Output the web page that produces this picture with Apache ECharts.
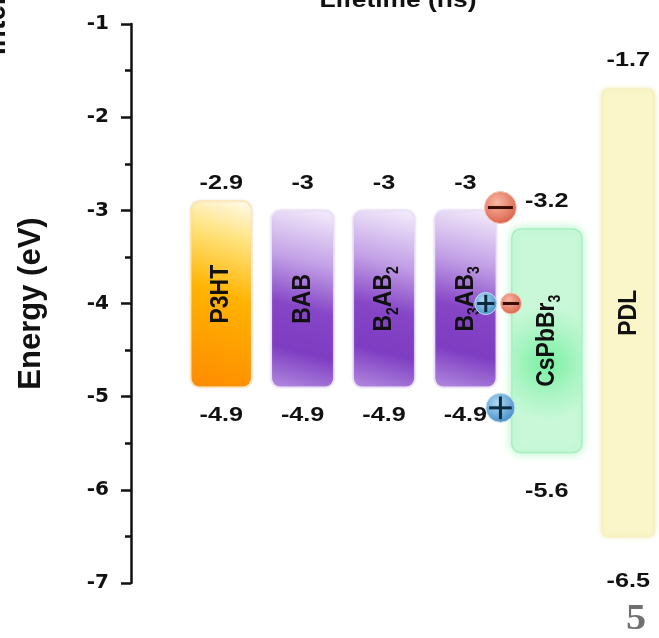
<!DOCTYPE html>
<html><head><meta charset="utf-8">
<script src="https://cdn.jsdelivr.net/npm/echarts@6/dist/echarts.min.js"></script>
<style>html,body{margin:0;padding:0;background:#fff}#c{width:659px;height:638px}</style>
</head><body><div id="c"></div>
<script>
// ---------- data ----------
const categories = ['P3HT', 'BAB', 'B2AB2', 'B3AB3', 'CsPbBr3', 'PDL'];
const lumoLevels = [-2.9, -3, -3, -3, -3.2, -1.7];
const homoLevels = [-4.9, -4.9, -4.9, -4.9, -5.6, -6.5];
const lumoLabels = ['-2.9', '-3', '-3', '-3', '-3.2', '-1.7'];
const homoLabels = ['-4.9', '-4.9', '-4.9', '-4.9', '-5.6', '-6.5'];
const energyMin = -7;
const energyMax = -1;
const chargeSigns = ['-', '+', '-', '+'];
const chargePos = [3.43, 3.25, 3.56, 3.43];
const chargeEnergy = [-2.97, -4.0, -4.0, -5.12];

// ---------- styles ----------
const FONT = '"Liberation Sans", Arial, sans-serif';
const richNames = {
  'P3HT': '{m|P3HT}', 'BAB': '{m|BAB}', 'B2AB2': '{m|B}{s|2}{m|AB}{s|2}',
  'B3AB3': '{m|B}{s|3}{m|AB}{s|3}', 'CsPbBr3': '{m|CsPbBr}{s|3}', 'PDL': '{m|PDL}'
};
const boxW = [0.75, 0.77, 0.76, 0.76, 0.86, 0.64];
const topGap = [18, 27, 27, 27, 28, 29];
const botGap = [28, 28, 28, 28, 39, 45];
const chargeR = [16, 11, 10.5, 14.5];

function boxFill(idx) {
  const G = echarts.graphic;
  if (idx === 0) return new G.LinearGradient(1, 0, 0, 1, [
    {offset: 0, color: '#fffcf2'}, {offset: 0.22, color: '#ffe27a'},
    {offset: 0.5, color: '#ffb300'}, {offset: 1, color: '#ff8a00'}]);
  if (idx <= 3) return new G.LinearGradient(0.85, 0, 0.15, 1, [
    {offset: 0, color: '#f4edfb'}, {offset: 0.3, color: '#c2a0e6'},
    {offset: 0.55, color: '#8646c6'}, {offset: 0.78, color: '#7e3cc2'},
    {offset: 1, color: '#b088de'}]);
  if (idx === 4) return new G.RadialGradient(0.5, 0.6, 0.8, [
    {offset: 0, color: '#78f0a2'}, {offset: 0.6, color: '#aef5c6'}, {offset: 1, color: '#c8f8d8'}]);
  return '#faf6c9';
}

const chart = echarts.init(document.getElementById('c'), null, {renderer: 'canvas'});

const boxData = categories.map((c, i) => [i, lumoLevels[i], homoLevels[i]]);
const chargeData = chargePos.map((x, i) => [x, chargeEnergy[i]]);

function renderBox(params, api) {
  const idx = params.dataIndex;
  const i = api.value(0);
  const top = api.coord([i, api.value(1)]);
  const bot = api.coord([i, api.value(2)]);
  const bw = api.size([1, 0])[0] * boxW[idx];
  const cx = top[0];
  const h = bot[1] - top[1];
  const children = [];
  const isGreen = idx === 4, isPDL = idx === 5;
  children.push({
    type: 'rect',
    shape: {x: cx - bw / 2, y: top[1], width: bw, height: h, r: isPDL ? 6 : 9},
    style: {
      fill: boxFill(idx),
      stroke: idx === 0 ? '#ffe9b0' : (idx <= 3 ? '#ece2f7' : (isGreen ? '#a6f0c0' : '#f6efc0')),
      lineWidth: 1.5,
      shadowBlur: isGreen ? 10 : (isPDL ? 4 : 2),
      shadowColor: isGreen ? '#aef3c6' : (isPDL ? '#f3ecb8' : 'rgba(200,180,230,0.4)')
    }
  });
  children.push({
    type: 'text', x: cx, y: top[1] + h / 2, rotation: Math.PI / 2, scaleY: 1.15,
    style: {
      text: richNames[categories[idx]], align: 'center', verticalAlign: 'middle', fill: '#111',
      rich: {
        m: {fontFamily: FONT, fontWeight: 'bold', fontSize: 23, lineHeight: 30, verticalAlign: 'middle', fill: '#111'},
        s: {fontFamily: FONT, fontWeight: 'bold', fontSize: 14, lineHeight: 14, verticalAlign: 'bottom', fill: '#111'}
      }
    }
  });
  children.push({
    type: 'text', x: cx, y: top[1] - topGap[idx], scaleX: 1.2,
    style: {text: lumoLabels[idx], align: 'center', verticalAlign: 'middle', fill: '#111',
      font: 'bold 21px ' + FONT}
  });
  children.push({
    type: 'text', x: cx, y: bot[1] + botGap[idx], scaleX: 1.2,
    style: {text: homoLabels[idx], align: 'center', verticalAlign: 'middle', fill: '#111',
      font: 'bold 21px ' + FONT}
  });
  return {type: 'group', children};
}

function renderCharge(params, api) {
  const idx = params.dataIndex;
  const p = api.coord([api.value(0), api.value(1)]);
  const r = chargeR[idx];
  const neg = chargeSigns[idx] === '-';
  const fill = new echarts.graphic.RadialGradient(0.4, 0.35, 0.75, neg ?
    [{offset: 0, color: '#f8b8a6'}, {offset: 1, color: '#d8583e'}] :
    [{offset: 0, color: '#b0d9f2'}, {offset: 1, color: '#3a86c2'}]);
  const children = [
    {type: 'circle', shape: {cx: p[0], cy: p[1], r},
      style: {fill, stroke: neg ? '#f2c6b8' : '#c4e2f4', lineWidth: 1}},
    {type: 'line', shape: {x1: p[0] - r * 0.78, y1: p[1], x2: p[0] + r * 0.78, y2: p[1]},
      style: {stroke: neg ? '#3a0c06' : '#0c2a40', lineWidth: 3}}
  ];
  if (!neg) children.push({type: 'line',
    shape: {x1: p[0], y1: p[1] - r * 0.78, x2: p[0], y2: p[1] + r * 0.78},
    style: {stroke: '#0c2a40', lineWidth: 3}});
  return {type: 'group', children};
}

chart.setOption({
  animation: false,
  backgroundColor: '#fff',
  grid: {left: 131, right: 0, top: 24, bottom: 55},
  xAxis: {type: 'value', min: -1.108, max: 5.378, show: false},
  yAxis: {
    type: 'value', min: energyMin, max: energyMax, interval: 1,
    name: 'Energy (eV)', nameLocation: 'middle', nameGap: 84, nameRotate: 90,
    nameTextStyle: {fontFamily: FONT, fontWeight: 'bold', fontSize: 31, color: '#111'},
    axisLine: {show: true, onZero: false, lineStyle: {color: '#111', width: 2.5}},
    axisTick: {show: true, inside: false, length: 10, lineStyle: {color: '#111', width: 2.5}},
    minorTick: {show: true, splitNumber: 2, length: 6, lineStyle: {color: '#111', width: 2.5}},
    splitLine: {show: false},
    axisLabel: {fontFamily: '"DejaVu Sans", sans-serif', fontWeight: 'bold', fontSize: 20, color: '#111', margin: 22}
  },
  graphic: [
    {type: 'text', x: 398, y: -10, scaleX: 1.2,
      style: {text: 'Lifetime (ns)', font: 'bold 22px ' + FONT, fill: '#111', align: 'center', verticalAlign: 'top'}},
    {type: 'text', x: -4, y: 55, rotation: Math.PI / 2, scaleY: 1.15,
      style: {text: 'Intensity', font: 'bold 28px ' + FONT, fill: '#111', align: 'left', verticalAlign: 'middle'}},
    {type: 'text', x: 636, y: 620, scaleX: 1.15,
      style: {text: '5', font: 'bold 35px "Liberation Serif", "DejaVu Serif", serif', fill: '#707070', align: 'center', verticalAlign: 'middle'}}
  ],
  series: [
    {type: 'custom', coordinateSystem: 'cartesian2d', data: boxData, renderItem: renderBox, clip: false, z: 2},
    {type: 'custom', coordinateSystem: 'cartesian2d', data: chargeData, renderItem: renderCharge, clip: false, z: 3}
  ]
});
</script>
</body></html>
